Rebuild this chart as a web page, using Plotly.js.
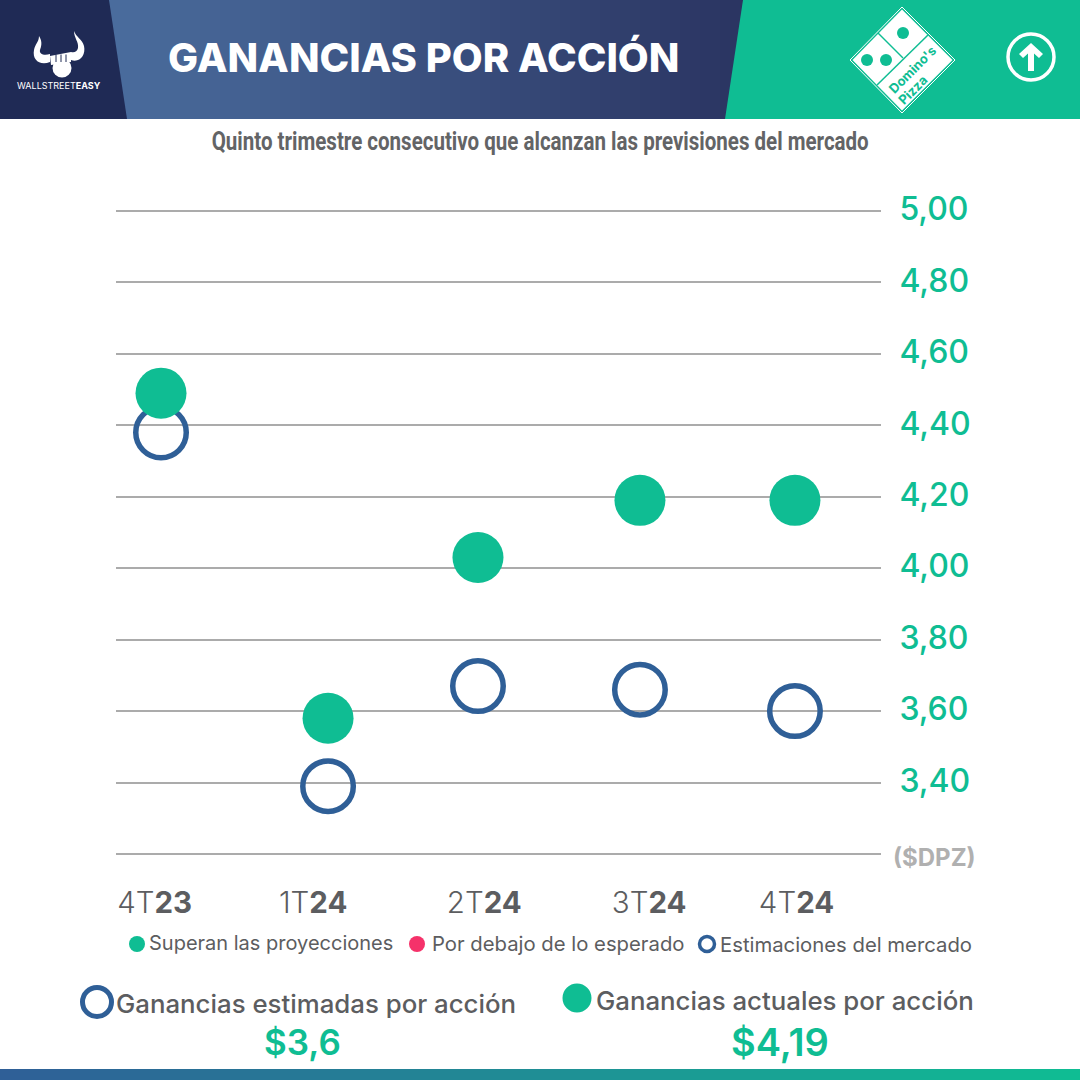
<!DOCTYPE html>
<html>
<head>
<meta charset="utf-8">
<script src="https://cdn.plot.ly/plotly-3.0.1.min.js"></script>
<style>html,body{margin:0;padding:0;background:#fff}#chart{width:1080px;height:1080px}</style>
</head>
<body>
<div id="chart"></div>
<script>
// ---- data ----
const quarterLabels = ['4T<b>23</b>', '1T<b>24</b>', '2T<b>24</b>', '3T<b>24</b>', '4T<b>24</b>'];
const labelPositions = [-0.04, 0.96, 2.04, 3.08, 4.01];
const quarterPositions = [0, 1.054, 2, 3.022, 4];
const actualEps = [4.49, 3.58, 4.03, 4.19, 4.19];
const estimatedEps = [4.38, 3.39, 3.67, 3.66, 3.60];
const yTickValues = [3.2, 3.4, 3.6, 3.8, 4.0, 4.2, 4.4, 4.6, 4.8, 5.0];
const yTickLabels = ['', '3,40', '3,60', '3,80', '4,00', '4,20', '4,40', '4,60', '4,80', '5,00'];
const titleText = 'GANANCIAS POR ACCIÓN';
const subtitleText = 'Quinto trimestre consecutivo que alcanzan las previsiones del mercado';

// ---- style ----
const GREEN = '#0fbd93', BLUE = '#2f5f97', PINK = '#f5326a', NAVY = '#1f2a55', GREY = '#5c5d60', GRID = '#ababab';
const SANS = 'Inter, "Open Sans", sans-serif';
const NARROW = 'Roboto, sans-serif';

// page pixel -> paper fraction (margins are zero, so paper == page)
const px = x => x / 1080, py = y => 1 - y / 1080;
const poly = pts => 'M ' + pts.map(p => px(p[0]) + ' ' + py(p[1])).join(' L ') + ' Z';
const mix = (a, b, t) => {
  const h = c => [1, 3, 5].map(i => parseInt(c.substr(i, 2), 16));
  const A = h(a), B = h(b);
  return 'rgb(' + A.map((v, i) => Math.round(v + (B[i] - v) * t)).join(',') + ')';
};
const base = {xref: 'paper', yref: 'paper', layer: 'below'};
const rect = (x0, y0, x1, y1, fill) => ({...base, type: 'rect', x0: px(x0), x1: px(x1), y0: py(y0), y1: py(y1), fillcolor: fill, line: {width: 0}});
const circ = (cx, cy, r, fill, stroke, w) => ({...base, type: 'circle', x0: px(cx - r), x1: px(cx + r), y0: py(cy + r), y1: py(cy - r), fillcolor: fill, line: stroke ? {color: stroke, width: w} : {width: 0}});
const path = (d, fill) => ({...base, type: 'path', path: d, fillcolor: fill, line: {width: 0}});
const curve = (d) => d.replace(/(-?[\d.]+) (-?[\d.]+)/g, (m, a, b) => px(+a) + ' ' + py(+b));

const shapes = [];
// header gradient
for (let i = 0; i < 66; i++) {
  const x0 = 100 + i * 10;
  shapes.push(rect(x0, 0, x0 + 10.5, 119, mix('#4a6d9e', '#2a3360', i / 65)));
}
shapes.push(path(poly([[0, 0], [109, 0], [127, 119], [0, 119]]), NAVY));
shapes.push(path(poly([[743, 0], [1080, 0], [1080, 119], [725, 119]]), GREEN));
// bottom gradient
for (let i = 0; i < 108; i++) {
  shapes.push(rect(i * 10, 1069, i * 10 + 10.5, 1080, mix(BLUE, GREEN, i / 107)));
}
// bull logo
shapes.push(path(curve('M 39 36 C 43 42 41 47 40 50 C 39 54 44 56 50 54 L 50 62 C 40 66 32 60 34 50 C 35 44 39 42 39 36 Z'), '#fff'));
shapes.push(path(curve('M 74 31 C 74 38 79 42 78 48 C 77 52 74 53 71 52 L 71 60 C 80 63 86 55 84 46 C 82 39 76 37 74 31 Z'), '#fff'));
shapes.push(path(poly([[50, 56], [71, 52], [71, 62], [51, 65]]), '#fff'));
shapes.push(circ(62, 68, 9.5, '#fff'));
[56, 61, 66].forEach(x => shapes.push({...base, type: 'line', x0: px(x), y0: py(54.5), x1: px(x), y1: py(62), line: {color: NAVY, width: 1}}));
// Domino's logo
shapes.push({...path(poly([[902, 7], [955, 60], [902, 113], [850, 60]]), 'rgba(0,0,0,0)'), line: {color: '#fff', width: 1}});
shapes.push(path(poly([[902, 9.5], [952.5, 60], [902, 110.5], [852.5, 60]]), '#fff'));
shapes.push({...base, type: 'line', x0: px(878), y0: py(33), x1: px(903), y1: py(58), line: {color: GREEN, width: 1.5}});
shapes.push({...base, type: 'line', x0: px(928), y0: py(35), x1: px(877), y1: py(85), line: {color: GREEN, width: 1.5}});
shapes.push(circ(903, 33, 6, GREEN));
shapes.push(circ(867, 60, 6, GREEN));
shapes.push(circ(886, 60, 6, GREEN));
// arrow badge
shapes.push(circ(1031, 57, 23, 'rgba(0,0,0,0)', '#fff', 3.5));
shapes.push(path(poly([[1031, 43], [1043, 54], [1039, 58], [1034, 53.5], [1034, 71], [1028, 71], [1028, 53.5], [1023, 58], [1019, 54]]), '#fff'));
// legend marks
shapes.push(circ(137, 944, 8, GREEN));
shapes.push(circ(417, 944, 8, PINK));
shapes.push(circ(707, 944, 7.5, '#fff', BLUE, 3.5));
shapes.push(circ(97, 1002, 14.5, '#fff', BLUE, 5));
shapes.push(circ(577, 998, 14.5, GREEN));

const note = (text, x, y, size, color, anchor, weight, extra) => Object.assign({
  text, x: px(x), y: py(y), xref: 'paper', yref: 'paper', showarrow: false,
  xanchor: anchor || 'left', yanchor: 'middle', align: anchor || 'left',
  font: {family: SANS, size, color, weight: weight || 400}
}, extra || {});

const annotations = [
  note(subtitleText, 540, 141, 26, '#636466', 'center', 700, {font: {family: NARROW, size: 26, color: '#636466', weight: 700}}),
  note('WALLSTREET<b>EASY</b>', 59, 85, 9, '#fff', 'center'),
  note("Domino's", 911.5, 69.5, 13, GREEN, 'center', 700, {textangle: -45}),
  note('Pizza', 912.5, 90.5, 13, GREEN, 'center', 700, {textangle: -45}),
  note('($DPZ)', 934, 857, 24, '#b0b0b0', 'center', 700),
  note('Superan las proyecciones', 147, 943, 20, GREY),
  note('Por debajo de lo esperado', 430, 943, 20.3, GREY),
  note('Estimaciones del mercado', 718, 944, 20.3, GREY),
  note('Ganancias estimadas por acción', 114, 1003, 25.8, GREY, 'left', 500),
  note('Ganancias actuales por acción', 594, 1000, 25.8, GREY, 'left', 500),
  note('$3,6', 302, 1042, 35, GREEN, 'center', 600),
  note('$4,19', 780, 1042, 38, GREEN, 'center', 600)
];

const traces = [
  {type: 'scatter', mode: 'markers', name: 'Estimaciones del mercado', x: quarterPositions, y: estimatedEps, cliponaxis: false,
   marker: {size: 50.5, color: 'rgba(0,0,0,0)', line: {color: BLUE, width: 5.5}}},
  {type: 'scatter', mode: 'markers', name: 'Superan las proyecciones', x: quarterPositions, y: actualEps, cliponaxis: false,
   marker: {size: 51, color: GREEN, line: {width: 0}}}
];

const layout = {
  width: 1080, height: 1080,
  margin: {l: 0, r: 0, t: 0, b: 0},
  paper_bgcolor: '#fff', plot_bgcolor: '#fff',
  showlegend: false,
  title: {text: titleText, x: px(168), xanchor: 'left', y: py(58), yanchor: 'middle', font: {family: SANS, size: 40, color: '#fff', weight: 800}},
  xaxis: {
    domain: [px(116), px(881)], range: [-0.284, 4.543], showgrid: false, zeroline: false, showline: false,
    tickmode: 'array', tickvals: labelPositions, ticktext: quarterLabels,
    ticks: 'outside', ticklen: 21, tickcolor: 'rgba(0,0,0,0)',
    tickfont: {family: SANS, size: 29.5, color: GREY, weight: 300}
  },
  yaxis: {
    domain: [py(856), py(209)], range: [3.1944, 5.0056], side: 'right', showgrid: true, gridcolor: GRID, gridwidth: 2, zeroline: false, showline: false,
    tickmode: 'array', tickvals: yTickValues, ticktext: yTickLabels,
    ticks: 'outside', ticklen: 11, tickcolor: 'rgba(0,0,0,0)', ticklabelshift: -2,
    tickfont: {family: SANS, size: 32, color: GREEN, weight: 500}
  },
  shapes, annotations
};
Plotly.newPlot('chart', traces, layout, {displayModeBar: false, staticPlot: true}).then(gd => {
  // the reference subtitle is set in a condensed face: narrow the real text to match
  const s = 0.79;
  const g = gd.querySelector('.annotation[data-index="0"]');
  if (g) g.setAttribute('transform', 'translate(' + (540 * (1 - s)) + ',0) scale(' + s + ',1)');
});
</script>
</body>
</html>
